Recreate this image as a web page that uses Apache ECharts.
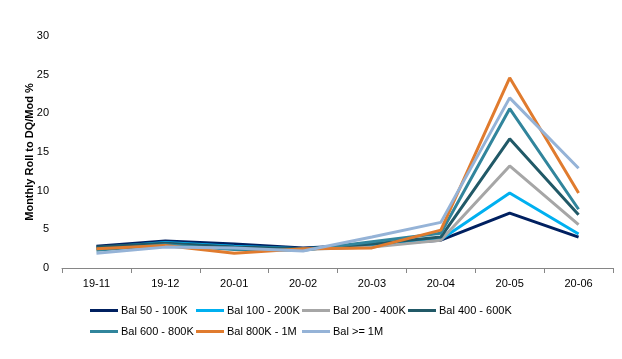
<!DOCTYPE html>
<html>
<head>
<meta charset="utf-8">
<script src="https://cdn.jsdelivr.net/npm/echarts@6/dist/echarts.min.js"></script>
<style>html,body{margin:0;padding:0;background:#fff}#c{width:622px;height:359px}</style>
</head>
<body>
<div id="c"></div>
<script>
const categories = ['19-11','19-12','20-01','20-02','20-03','20-04','20-05','20-06'];
const seriesNames = ['Bal 50 - 100K','Bal 100 - 200K','Bal 200 - 400K','Bal 400 - 600K','Bal 600 - 800K','Bal 800K - 1M','Bal >= 1M'];
const bal50_100K  = [2.8, 3.5, 3.1, 2.6, 3.0, 3.6, 7.1, 4.0];
const bal100_200K = [2.6, 3.3, 2.8, 2.5, 2.9, 3.7, 9.7, 4.4];
const bal200_400K = [2.5, 3.1, 2.6, 2.4, 2.7, 3.6, 13.2, 5.6];
const bal400_600K = [2.7, 3.2, 2.7, 2.5, 3.1, 4.0, 16.7, 6.9];
const bal600_800K = [2.3, 3.0, 2.4, 2.3, 3.4, 4.5, 20.6, 7.6];
const bal800K_1M  = [2.5, 2.9, 1.9, 2.5, 2.6, 4.9, 24.6, 9.7];
const balGe1M     = [1.9, 2.7, 2.6, 2.2, 4.0, 5.9, 22.0, 12.9];
const yTicks = [0, 5, 10, 15, 20, 25, 30];

const values = [bal50_100K, bal100_200K, bal200_400K, bal400_600K, bal600_800K, bal800K_1M, balGe1M];
const colors = ['#002060','#00B0F0','#A6A6A6','#215967','#31859C','#E07B2E','#95B3D7'];
const font = '"Liberation Sans", Arial, sans-serif';

const chart = echarts.init(document.getElementById('c'));
const legends = seriesNames.map((n, i) => ({
  left: 90 + (i % 4) * 106, top: 305 + Math.floor(i / 4) * 21,
  data: [n], itemGap: 0, itemWidth: 28, itemHeight: 3, icon: 'rect', padding: 0,
  textStyle: { fontFamily: font, fontSize: 11, color: '#000', padding: [0, 0, 0, -2] }
}));
chart.setOption({
  animation: false,
  color: colors,
  grid: { left: 62, right: 9, top: 36, bottom: 91 },
  legend: legends,
  xAxis: {
    type: 'category', data: categories, boundaryGap: true,
    axisLine: { lineStyle: { color: '#868686', width: 1 } },
    axisTick: { show: true, length: 5, lineStyle: { color: '#868686' } },
    axisLabel: { fontFamily: font, fontSize: 11, color: '#000', margin: 10 }
  },
  yAxis: {
    type: 'value', min: yTicks[0], max: yTicks[yTicks.length - 1], interval: 5,
    name: 'Monthly Roll to DQ/Mod %', nameLocation: 'middle', nameRotate: 90, nameGap: 27,
    nameMoveOverlap: false,
    nameTextStyle: { fontFamily: font, fontSize: 11, fontWeight: 'bold', color: '#000' },
    axisLine: { show: false }, axisTick: { show: false }, splitLine: { show: false },
    axisLabel: { fontFamily: font, fontSize: 11, color: '#000', margin: 13 }
  },
  series: seriesNames.map((n, i) => ({
    name: n, type: 'line', data: values[i], symbol: 'none',
    lineStyle: { width: 3, color: colors[i] }, itemStyle: { color: colors[i] }
  }))
});
</script>
</body>
</html>
